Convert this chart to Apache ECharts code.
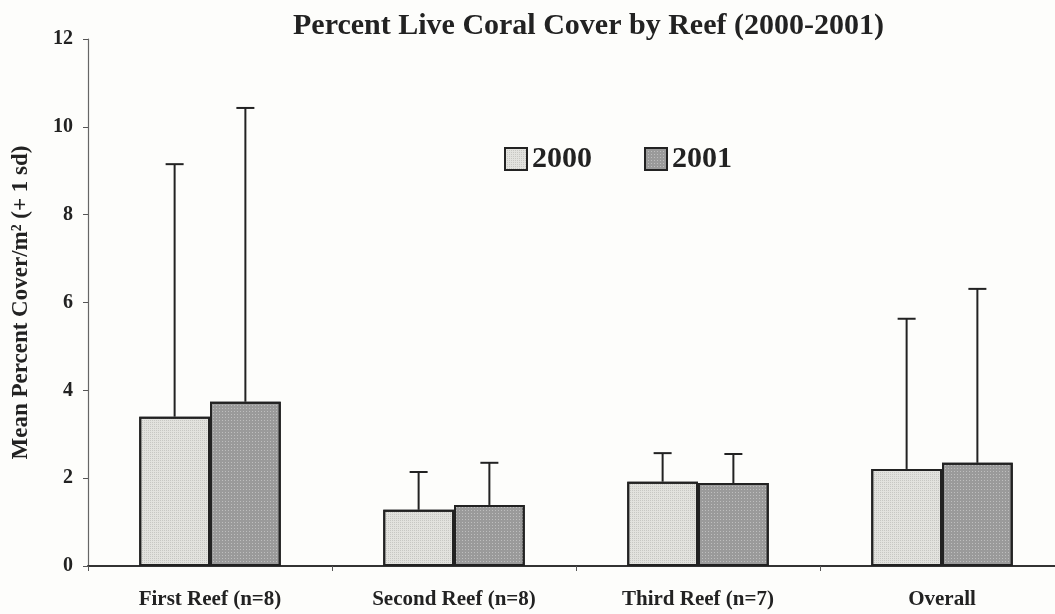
<!DOCTYPE html>
<html>
<head>
<meta charset="utf-8">
<script src="https://cdn.jsdelivr.net/npm/echarts@6/dist/echarts.min.js"></script>
<style>
  html, body { margin: 0; padding: 0; background: #fdfdfb; }
  #chart { width: 1055px; height: 614px; }
</style>
</head>
<body>
<div id="chart"></div>
<script>
// Reef categories and yearly means (percent cover per m²)
const reefs = ['First Reef (n=8)', 'Second Reef (n=8)', 'Third Reef (n=7)', 'Overall'];
const years = ['2000', '2001'];
const mean2000 = [3.40, 1.28, 1.92, 2.21];
const mean2001 = [3.74, 1.39, 1.89, 2.35];
// One standard deviation above each mean
const sd2000 = [5.75, 0.86, 0.65, 3.42];
const sd2001 = [6.69, 0.96, 0.66, 3.96];
const yTicks = [0, 2, 4, 6, 8, 10, 12];

const SERIF = '"Liberation Serif", "DejaVu Serif", serif';
const INK = '#222';

// Bar layout inside each category band
const CAT_GAP = 0.42;
const barFrac = (1 - CAT_GAP) / 2;

function errorSeries(name, means, sds, slot) {
  const data = means.map((m, i) => [i, m, +(m + sds[i]).toFixed(2)]);
  return {
    type: 'custom',
    name: name + ' sd',
    data: data,
    encode: { x: 0, y: [1, 2] },
    z: 3,
    silent: true,
    renderItem: function (params, api) {
      const i = api.value(0);
      const base = api.coord([i, api.value(1)]);
      const top = api.coord([i, api.value(2)]);
      const band = api.size([1, 0])[0];
      const x = base[0] + band * barFrac * (slot - 0.5);
      const half = 9;
      const st = { stroke: INK, lineWidth: 2 };
      return {
        type: 'group',
        children: [
          { type: 'line', shape: { x1: x, y1: base[1], x2: x, y2: top[1] }, style: st },
          { type: 'line', shape: { x1: x - half, y1: top[1], x2: x + half, y2: top[1] }, style: st }
        ]
      };
    }
  };
}

const chart = echarts.init(document.getElementById('chart'), null, { renderer: 'canvas' });

chart.setOption({
  backgroundColor: '#fdfdfb',
  animation: false,
  title: {
    text: 'Percent Live Coral Cover by Reef (2000-2001)',
    left: 288,
    top: 6,
    textStyle: { fontFamily: SERIF, fontWeight: 'bold', fontSize: 30, color: INK }
  },
  legend: {
    data: years,
    left: 499,
    top: 139,
    itemGap: 52,
    itemWidth: 22,
    itemHeight: 22,
    icon: 'rect',
    textStyle: { fontFamily: SERIF, fontWeight: 'bold', fontSize: 30, color: INK }
  },
  grid: { left: 88, right: -9, top: 39, bottom: 48, containLabel: false, outerBoundsMode: 'none' },
  xAxis: {
    type: 'category',
    data: reefs,
    boundaryGap: true,
    axisLine: { show: true, lineStyle: { color: '#333', width: 2 } },
    axisTick: { show: true, inside: false, length: 5, alignWithLabel: false, lineStyle: { color: '#555', width: 1 } },
    axisLabel: { fontFamily: SERIF, fontWeight: 'bold', fontSize: 21, color: INK, margin: 23 },
    splitLine: { show: false }
  },
  yAxis: {
    type: 'value',
    min: yTicks[0],
    max: yTicks[yTicks.length - 1],
    interval: yTicks[1] - yTicks[0],
    name: 'Mean Percent Cover/m² (+ 1 sd)',
    nameLocation: 'middle',
    nameGap: 55,
    nameRotate: 90,
    nameTextStyle: { fontFamily: SERIF, fontWeight: 'bold', fontSize: 23, color: INK },
    axisLine: { show: true, lineStyle: { color: '#666', width: 1.2 } },
    axisTick: { show: true, inside: false, length: 5, lineStyle: { color: '#555', width: 1 } },
    axisLabel: { fontFamily: SERIF, fontWeight: 'bold', fontSize: 20, color: INK, margin: 15 },
    splitLine: { show: false }
  },
  series: [
    {
      type: 'bar',
      name: years[0],
      data: mean2000,
      barGap: '0%',
      barCategoryGap: (CAT_GAP * 100) + '%',
      z: 2,
      itemStyle: {
        color: '#e2e2de',
        borderColor: INK,
        borderWidth: 2,
        decal: { symbol: 'rect', symbolSize: 1, dashArrayX: [1, 1], dashArrayY: [1, 1], rotation: 0, color: 'rgba(150,150,145,0.35)' }
      }
    },
    {
      type: 'bar',
      name: years[1],
      data: mean2001,
      barGap: '0%',
      barCategoryGap: (CAT_GAP * 100) + '%',
      z: 2,
      itemStyle: {
        color: '#9a9a9a',
        borderColor: INK,
        borderWidth: 2,
        decal: { symbol: 'rect', symbolSize: 1, dashArrayX: [1, 2], dashArrayY: [1, 2], rotation: 0, color: 'rgba(235,235,235,0.45)' }
      }
    },
    errorSeries(years[0], mean2000, sd2000, 0),
    errorSeries(years[1], mean2001, sd2001, 1)
  ]
});
</script>
</body>
</html>
